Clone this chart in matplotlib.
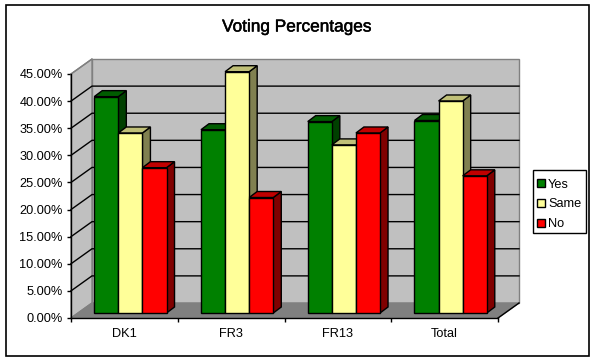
import numpy as np
import matplotlib
matplotlib.use('Agg')
from matplotlib import pyplot as plt
from matplotlib import patheffects
from matplotlib.patches import Polygon, Rectangle

categories = ['DK1', 'FR3', 'FR13', 'Total']
series_names = ['Yes', 'Same', 'No']
yes = [39.9, 33.8, 35.3, 35.5]
same = [33.2, 44.5, 31.0, 39.1]
no = [26.8, 21.3, 33.2, 25.3]
ticks = [0, 5, 10, 15, 20, 25, 30, 35, 40, 45]

W, H = 596, 362
# pixel box of the front axes
L, R, B, T = 71, 498, 318, 74
plt.rcParams['font.family'] = ['Liberation Sans', 'DejaVu Sans']

fig = plt.figure(figsize=(W / 100, H / 100), dpi=100)
ax = fig.add_axes([L / W, 1 - B / H, (R - L) / W, (B - T) / H])
ax.set_xlim(0, 4)
ax.set_ylim(0, 45)
ax.patch.set_visible(False)
for s in ax.spines.values():
    s.set_visible(False)

ux = 4 / (R - L)      # data units per pixel
uy = 45 / (B - T)
wall_dx, wall_dy = 21 * ux, 15 * uy
bar_dx, bar_dy = 8 * ux, 6 * uy
off_x, off_y = 6 * ux, 5 * uy
bw = 24.1 * ux

# back wall, side wall, floor
grey = '#c0c0c0'
ax.add_patch(Polygon([(wall_dx, wall_dy), (4 + wall_dx, wall_dy), (4 + wall_dx, 45 + wall_dy), (wall_dx, 45 + wall_dy)],
                     fc=grey, ec='#808080', lw=1, clip_on=False, zorder=1))
ax.add_patch(Polygon([(0, 0), (wall_dx, wall_dy), (wall_dx, 45 + wall_dy), (0, 45)],
                     fc=grey, ec='#808080', lw=1, clip_on=False, zorder=1))
ax.add_patch(Polygon([(0, 0), (4, 0), (4 + wall_dx, wall_dy), (wall_dx, wall_dy)],
                     fc='#808080', ec='#808080', lw=1, clip_on=False, zorder=1))

# gridlines
for t in ticks[1:-1]:
    ax.plot([0, wall_dx, 4 + wall_dx], [t, t + wall_dy, t + wall_dy], color='k', lw=1,
            clip_on=False, zorder=2)
ax.plot([0, wall_dx], [45, 45 + wall_dy], color='#808080', lw=1, clip_on=False, zorder=2)

# axis lines
ax.plot([0, 0], [0, 45], color='k', lw=1, clip_on=False, zorder=2)
ax.plot([0, 4], [0, 0], color='k', lw=1, clip_on=False, zorder=2)
ax.plot([4, 4 + wall_dx], [0, wall_dy], color='k', lw=1, clip_on=False, zorder=2)

ax.set_xticks(range(5))
ax.set_xticklabels([])
ax.set_yticks(ticks)
ax.set_yticklabels(['%.2f%%' % t for t in ticks], fontsize=9.2)
ax.tick_params(axis='both', length=3, width=1, color='k', pad=3, zorder=2)
for i, c in enumerate(categories):
    ax.text(i + 0.5, -3.0, c, ha='center', va='center', fontsize=9.2)

colors = [('#008000', '#005c00', '#004000'),
          ('#ffff99', '#c0c078', '#808050'),
          ('#ff0000', '#c00000', '#800000')]
z = 3
for i in range(4):
    for j, vals in enumerate([yes, same, no]):
        v = vals[i]
        x0 = i + 0.5 + off_x + (j - 1.5) * bw
        x1 = x0 + bw
        front, top, side = colors[j]
        ax.add_patch(Polygon([(x1, off_y), (x1 + bar_dx, off_y + bar_dy), (x1 + bar_dx, off_y + v + bar_dy), (x1, off_y + v)],
                             fc=side, ec='k', lw=1, clip_on=False, zorder=z))
        ax.add_patch(Polygon([(x0, off_y + v), (x1, off_y + v), (x1 + bar_dx, off_y + v + bar_dy), (x0 + bar_dx, off_y + v + bar_dy)],
                             fc=top, ec='k', lw=1, clip_on=False, zorder=z))
        ax.add_patch(Rectangle((x0, off_y), bw, v, fc=front, ec='k', lw=1, clip_on=False, zorder=z + 1))
        z += 2

title = fig.text(297 / W, 1 - 27 / H, 'Voting Percentages', ha='center', va='center', fontsize=12.4, color='k')
title.set_path_effects([patheffects.withStroke(linewidth=0.35, foreground='k')])

# outer frame
fig.add_artist(Rectangle((5.5 / W, 1 - 356 / H), 583.5 / W, 351 / H, fc='none', ec='k', lw=1.2,
                         transform=fig.transFigure))

# legend, frame drawn separately so the rows can sit lower in the box
fig.add_artist(Rectangle((532.5 / W, 1 - 233 / H), 53 / W, 63 / H, fc='white', ec='k', lw=1,
                         transform=fig.transFigure))
leg = fig.legend([Rectangle((0, 0), 1, 1, fc=c[0], ec='k', lw=1) for c in colors], series_names,
                 loc='upper left', bbox_to_anchor=(537 / W, 1 - 178.5 / H), fontsize=9.2, frameon=False,
                 borderpad=0, labelspacing=0.62,
                 handlelength=0.62, handleheight=0.62, handletextpad=0.25, borderaxespad=0)

fig.savefig('out.png', dpi=100)
